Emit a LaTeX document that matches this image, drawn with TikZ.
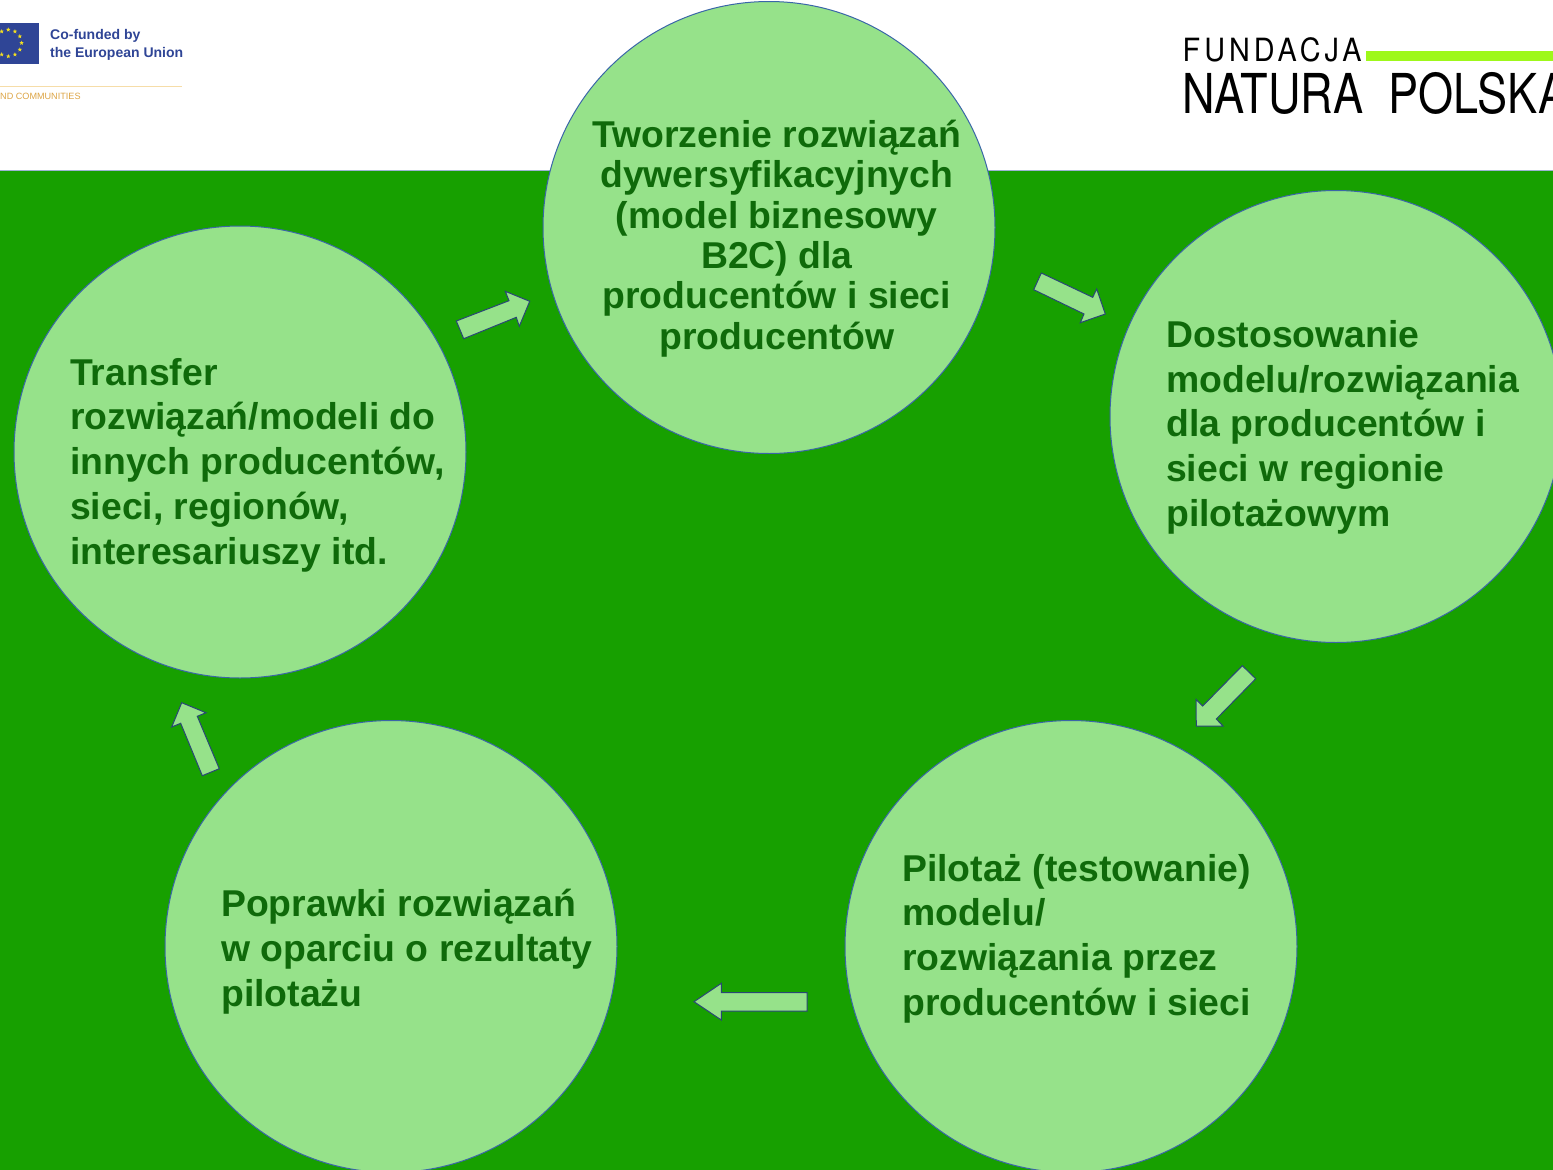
\documentclass[tikz,border=0pt]{standalone}
\usepackage{fontspec}
\setmainfont{Liberation Sans}
\newfontfamily\heros{TeX Gyre Heros}
\newfontfamily\herosls[LetterSpace=14]{TeX Gyre Heros}
\usetikzlibrary{shapes.geometric}
\definecolor{bggreen}{HTML}{17A000}
\definecolor{lightgreen}{HTML}{96E28A}
\definecolor{edgeblue}{HTML}{3A66A8}
\definecolor{textgreen}{HTML}{0F6A0A}
\definecolor{eublue}{HTML}{2F4596}
\definecolor{euyellow}{HTML}{F5E020}
\definecolor{ochre}{HTML}{DDA545}
\definecolor{ochrel}{HTML}{F6DDA8}
\definecolor{lime}{HTML}{9EF81A}
\tikzset{
  stage/.style={circle,draw=edgeblue,fill=lightgreen,line width=1pt,minimum size=452pt,inner sep=0pt},
  stagetext/.style={inner sep=0pt,text=textgreen,align=left,font=\fontsize{37.35}{44.7}\selectfont\bfseries},
  toptext/.style={inner sep=0pt,text=textgreen,align=center,font=\fontsize{37.35}{40.35}\selectfont\bfseries},
  blockarrow/.style={draw=edgeblue!70!black,fill=lightgreen,line width=1pt,line join=miter},
  eustar/.style={star,star points=5,star point ratio=2.4,fill=euyellow,inner sep=0pt,minimum size=4.6pt},
}
\begin{document}
\begin{tikzpicture}[x=1pt,y=-1pt]
\clip (0,0) rectangle (1553,1170);
\fill[white] (0,0) rectangle (1553,170);
\fill[bggreen] (0,170) rectangle (1553,1170);
\draw[edgeblue!50!white,line width=.8pt] (0,170) -- (1553,170);
% EU logo
\fill[eublue] (0,23) rectangle (39,63.5);
\foreach \a in {0,30,...,330} \node[eustar] (star\a) at ([shift={(\a:13.3)}]8.3,43) {};
\node[anchor=base west,inner sep=0pt,text=eublue,font=\fontsize{14}{17}\selectfont\bfseries] (cofunded) at (50,39.5) {Co-funded by};
\node[anchor=base west,inner sep=0pt,text=eublue,font=\fontsize{14}{17}\selectfont\bfseries] (euunion) at (50,57) {the European Union};
\draw[ochrel,line width=1pt] (0,86) -- (182,86);
\node[anchor=base west,inner sep=0pt,text=ochre,font=\fontsize{9.1}{11}\selectfont] (communities) at (0,99.3) {ND COMMUNITIES};
% Natura logo
\fill[lime] (1366,51.3) rectangle (1553,61.3);
\node[anchor=base west,inner sep=0pt,xscale=.9,font=\fontsize{32}{34}\herosls] (fundacja) at (1182.5,61) {FUNDACJA};
\node[anchor=base west,inner sep=0pt,xscale=.82,font=\fontsize{55}{60}\heros] (natura) at (1182.5,113) {NATURA\hspace{.28em} POLSKA};
% circles
\node[stage] (c1) at (769,227.5) {};
\node[stage] (c2) at (1336,416.5) {};
\node[stage] (c3) at (1071,946.5) {};
\node[stage] (c4) at (391,946.5) {};
\node[stage] (c5) at (240,452) {};
% texts
\node[toptext,anchor=north] (t1) at (776.8,120) {Tworzenie rozwiązań\\dywersyfikacyjnych\\(model biznesowy\\B2C) dla\\producentów i sieci\\producentów};
\node[stagetext,anchor=north west] (t2) at (1166,320.3) {Dostosowanie\\modelu/rozwiązania\\dla producentów i\\sieci w regionie\\pilotażowym};
\node[stagetext,anchor=north west] (t3) at (902,854) {Pilotaż (testowanie)\\modelu/\\rozwiązania przez\\producentów i sieci};
\node[stagetext,anchor=north west] (t4) at (221,889) {Poprawki rozwiązań\\w oparciu o rezultaty\\pilotażu};
\node[stagetext,anchor=north west] (t5) at (70,358) {Transfer\\rozwiązań/modeli do\\innych producentów,\\sieci, regionów,\\interesariuszy itd.};
% block arrows
\draw[blockarrow] (456.3,321) -- (463.7,338.7) -- (516.3,317.3) -- (519.3,326.3) -- (529.7,301.3) -- (505.3,291.3) -- (509,300.7) -- cycle;
\draw[blockarrow] (1041.3,273) -- (1033.7,289.7) -- (1084,314) -- (1080.3,322.7) -- (1105.3,314) -- (1096.7,289) -- (1092.7,297.3) -- cycle;
\draw[blockarrow] (1242.3,665.7) -- (1255.7,678.7) -- (1216.3,719) -- (1223,726) -- (1196.3,726) -- (1196,699.3) -- (1202.7,706) -- cycle;
\draw[blockarrow] (807,992.7) -- (807,1011) -- (721.3,1011) -- (721.3,1020) -- (694,1001.7) -- (721.3,983.3) -- (721.3,992.7) -- cycle;
\draw[blockarrow] (219.3,768.7) -- (202.3,775.7) -- (180.7,723.3) -- (171.7,727) -- (181.7,702.7) -- (206,712.7) -- (197.3,716.3) -- cycle;
\end{tikzpicture}
\end{document}
